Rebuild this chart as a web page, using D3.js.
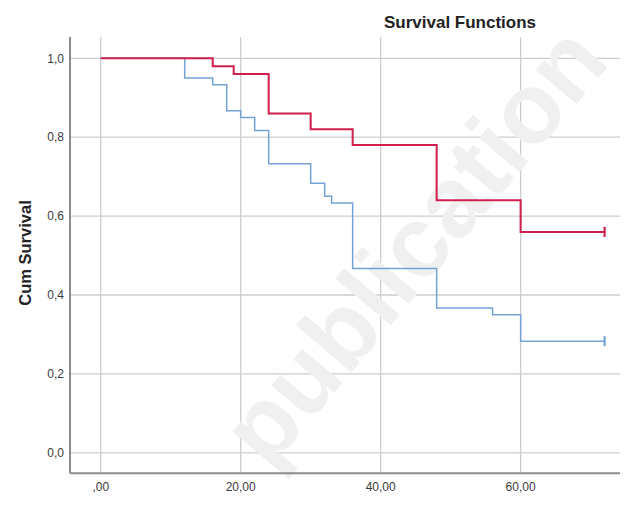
<!DOCTYPE html>
<html>
<head>
<meta charset="utf-8">
<script src="https://cdn.jsdelivr.net/npm/d3@7"></script>
<style>
  html, body { margin: 0; padding: 0; background: #fff; }
  svg { display: block; font-family: "Liberation Sans", Arial, sans-serif; }
</style>
</head>
<body>
<div id="chart"></div>
<script>
"use strict";

// values
var xTicks = [0, 20, 40, 60];
var xTickLabels = [",00", "20,00", "40,00", "60,00"];
var yTicks = [0, 0.2, 0.4, 0.6, 0.8, 1.0];
var yTickLabels = ["0,0", "0,2", "0,4", "0,6", "0,8", "1,0"];

// group 1 (red): event times and survival after each event
var redTimes = [0, 16, 19, 24, 30, 36, 48, 60];
var redSurv = [1, 0.98, 0.96, 0.86, 0.82, 0.78, 0.64, 0.56];
var redCensor = [72];

// group 2 (blue)
var blueTimes = [0, 12, 16, 18, 20, 22, 24, 30, 32, 33, 36, 48, 56, 60];
var blueSurv = [1, 0.95, 0.933, 0.867, 0.85, 0.817, 0.733, 0.683, 0.65, 0.633, 0.467, 0.367, 0.35, 0.283];
var blueCensor = [72];

var W = 627, H = 507;
var plot = { left: 70, right: 620, top: 37, bottom: 473.3 };

var svg = d3.select("#chart").append("svg")
  .attr("width", W)
  .attr("height", H);

svg.append("rect")
  .attr("width", W)
  .attr("height", H)
  .attr("fill", "#fff");

var x = d3.scaleLinear()
  .domain([-4.39, 74.2])
  .range([plot.left, plot.right]);
var y = d3.scaleLinear()
  .domain([-0.052, 1.054])
  .range([plot.bottom, plot.top]);

/* grid */
var grid = svg.append("g").attr("class", "grid");
grid.selectAll("line.gx")
  .data(xTicks)
  .enter().append("line")
    .attr("class", "gx")
    .attr("x1", function(d) { return x(d); })
    .attr("x2", function(d) { return x(d); })
    .attr("y1", plot.top)
    .attr("y2", plot.bottom)
    .attr("stroke", "#cdcdcd")
    .attr("stroke-width", 1.3);
grid.selectAll("line.gy")
  .data(yTicks)
  .enter().append("line")
    .attr("class", "gy")
    .attr("x1", plot.left)
    .attr("x2", plot.right)
    .attr("y1", function(d) { return y(d); })
    .attr("y2", function(d) { return y(d); })
    .attr("stroke", "#cdcdcd")
    .attr("stroke-width", 1.3);

/* watermark of the source image */
svg.append("text")
  .attr("transform", "translate(420,250) rotate(-50)")
  .attr("text-anchor", "middle")
  .attr("dy", "0.26em")
  .attr("font-size", 100)
  .attr("font-weight", "bold")
  .attr("fill", "#f0f0f0")
  .text("publication");

/* axis lines */
svg.append("line")
  .attr("x1", plot.left).attr("x2", plot.left)
  .attr("y1", plot.top).attr("y2", plot.bottom)
  .attr("stroke", "#8c8c8c")
  .attr("stroke-width", 2);
svg.append("line")
  .attr("x1", plot.left).attr("x2", plot.right)
  .attr("y1", plot.bottom).attr("y2", plot.bottom)
  .attr("stroke", "#8c8c8c")
  .attr("stroke-width", 2);

/* tick labels */
svg.selectAll("text.xl")
  .data(xTicks)
  .enter().append("text")
    .attr("class", "xl")
    .attr("x", function(d) { return x(d); })
    .attr("y", 491)
    .attr("text-anchor", "middle")
    .attr("font-size", 12)
    .attr("fill", "#3a3a3a")
    .text(function(d, i) { return xTickLabels[i]; });
svg.selectAll("text.yl")
  .data(yTicks)
  .enter().append("text")
    .attr("class", "yl")
    .attr("x", 64)
    .attr("y", function(d) { return y(d); })
    .attr("dy", "0.35em")
    .attr("text-anchor", "end")
    .attr("font-size", 12)
    .attr("fill", "#3a3a3a")
    .text(function(d, i) { return yTickLabels[i]; });

/* titles */
svg.append("text")
  .attr("x", 460)
  .attr("y", 28)
  .attr("text-anchor", "middle")
  .attr("font-size", 17)
  .attr("font-weight", "bold")
  .attr("fill", "#222")
  .text("Survival Functions");
svg.append("text")
  .attr("transform", "translate(31,253) rotate(-90)")
  .attr("text-anchor", "middle")
  .attr("font-size", 16.5)
  .attr("font-weight", "bold")
  .attr("fill", "#222")
  .text("Cum Survival");

/* survival curves */
var stepLine = d3.line()
  .x(function(d) { return x(d[0]); })
  .y(function(d) { return y(d[1]); })
  .curve(d3.curveStepAfter);

var drawCurve = function(times, surv, censor, color, width) {
  var pts = times.map(function(t, i) { return [t, surv[i]]; });
  var last = surv[surv.length - 1];
  censor.forEach(function(c) { pts.push([c, last]); });
  svg.append("path")
    .datum(pts)
    .attr("d", stepLine)
    .attr("fill", "none")
    .attr("stroke", color)
    .attr("stroke-width", width);
  svg.selectAll(null)
    .data(censor)
    .enter().append("line")
      .attr("x1", function(d) { return x(d); })
      .attr("x2", function(d) { return x(d); })
      .attr("y1", y(last) - 5)
      .attr("y2", y(last) + 5)
      .attr("stroke", color)
      .attr("stroke-width", 2.2);
};

drawCurve(blueTimes, blueSurv, blueCensor, "#74a2d4", 1.5);
drawCurve(redTimes, redSurv, redCensor, "#cf1f4c", 2);
</script>
</body>
</html>
